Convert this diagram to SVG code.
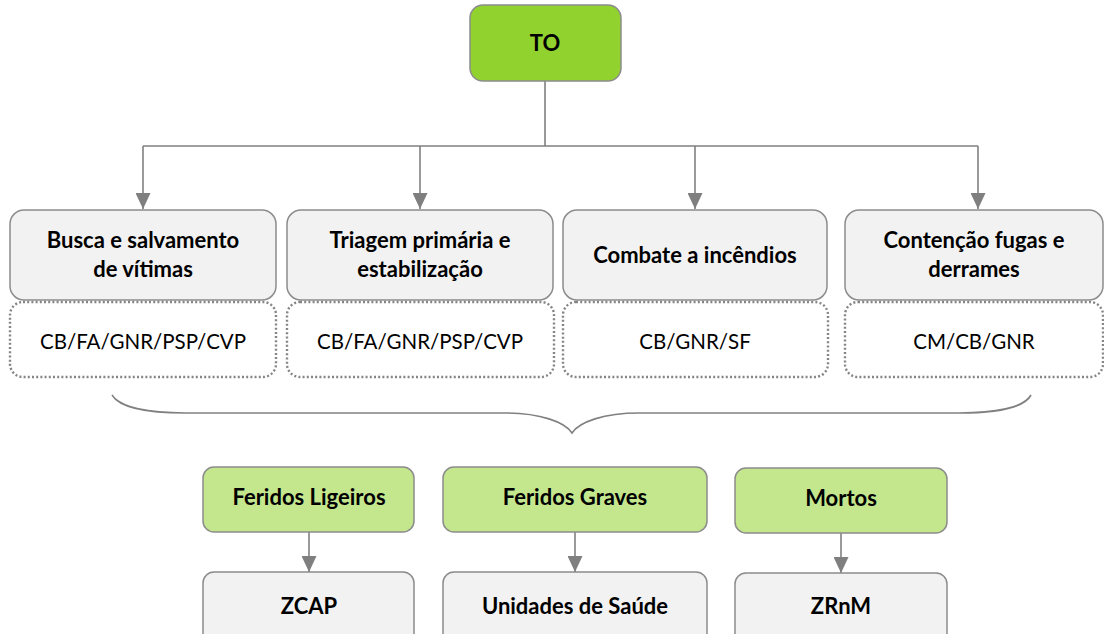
<svg xmlns="http://www.w3.org/2000/svg" width="1104" height="634" viewBox="0 0 1104 634">
<defs>
<marker id="ah" viewBox="0 0 16 15" refX="16" refY="7.5" markerWidth="16" markerHeight="15" markerUnits="userSpaceOnUse" orient="auto">
<path d="M0,0 L16,7.5 L0,15 Z" fill="#7f7f7f"/>
</marker>
<style>
.bx{fill:#f2f2f2;stroke:#8c8c8c;stroke-width:1.5}
.gr{fill:#c4e78d;stroke:#8c8c8c;stroke-width:1.5}
.to{fill:#92d22f;stroke:#8c8c8c;stroke-width:1.5}
.dt{fill:#ffffff;stroke:#858585;stroke-width:2.4;stroke-dasharray:2 2.2}
.ln{fill:none;stroke:#808080;stroke-width:1.6}
.b{font-family:Lato,"Liberation Sans",sans-serif;font-weight:bold;font-size:22px;fill:#000;text-anchor:middle}
.r{font-family:Lato,"Liberation Sans",sans-serif;font-size:20.5px;fill:#000;text-anchor:middle}
</style>
</defs>
<rect width="1104" height="634" fill="#ffffff"/>
<g id="connectors">
<path class="ln" d="M545,81 V146 M143,146 H978"/>
<path class="ln" d="M143,146 V209" marker-end="url(#ah)"/>
<path class="ln" d="M420,146 V209" marker-end="url(#ah)"/>
<path class="ln" d="M695,146 V209" marker-end="url(#ah)"/>
<path class="ln" d="M978,146 V209" marker-end="url(#ah)"/>
<path class="ln" d="M112,395 C120,408 150,413 185,413 H505 C540,413 565,422 572,433 C579,422 604,413 639,413 H959 C994,413 1024,408 1031,395"/>
<path class="ln" d="M309,532 V572" marker-end="url(#ah)"/>
<path class="ln" d="M575,532 V572" marker-end="url(#ah)"/>
<path class="ln" d="M841,533 V573" marker-end="url(#ah)"/>
</g>
<g id="TO"><rect class="to" x="470" y="5" width="151" height="76" rx="13"/><text class="b" x="545" y="51">TO</text></g>
<g id="busca"><rect class="bx" x="10" y="210" width="266" height="90" rx="14"/><text class="b" x="143" y="248">Busca e salvamento</text><text class="b" x="143" y="277">de vítimas</text></g>
<g id="busca-agentes"><rect class="dt" x="10" y="302" width="266" height="75" rx="13"/><text class="r" x="143" y="349">CB/FA/GNR/PSP/CVP</text></g>
<g id="triagem"><rect class="bx" x="287" y="210" width="266" height="90" rx="14"/><text class="b" x="420" y="248">Triagem primária e</text><text class="b" x="420" y="277">estabilização</text></g>
<g id="triagem-agentes"><rect class="dt" x="287" y="302" width="267" height="75" rx="13"/><text class="r" x="420" y="349">CB/FA/GNR/PSP/CVP</text></g>
<g id="combate"><rect class="bx" x="563" y="210" width="264" height="90" rx="14"/><text class="b" x="695" y="263">Combate a incêndios</text></g>
<g id="combate-agentes"><rect class="dt" x="563" y="302" width="265" height="75" rx="13"/><text class="r" x="695" y="349">CB/GNR/SF</text></g>
<g id="contencao"><rect class="bx" x="845" y="210" width="258" height="90" rx="14"/><text class="b" x="974" y="248">Contenção fugas e</text><text class="b" x="974" y="277">derrames</text></g>
<g id="contencao-agentes"><rect class="dt" x="845" y="302" width="258" height="75" rx="13"/><text class="r" x="974" y="349">CM/CB/GNR</text></g>
<g id="feridos-ligeiros"><rect class="gr" x="203" y="467" width="211" height="65" rx="11"/><text class="b" x="309" y="505">Feridos Ligeiros</text></g>
<g id="feridos-graves"><rect class="gr" x="443" y="467" width="264" height="65" rx="11"/><text class="b" x="575" y="505">Feridos Graves</text></g>
<g id="mortos"><rect class="gr" x="735" y="468" width="212" height="65" rx="11"/><text class="b" x="841" y="506">Mortos</text></g>
<g id="zcap"><rect class="bx" x="203" y="572" width="211" height="75" rx="11"/><text class="b" x="309" y="614">ZCAP</text></g>
<g id="unidades"><rect class="bx" x="443" y="572" width="264" height="75" rx="11"/><text class="b" x="575" y="614">Unidades de Saúde</text></g>
<g id="zrnm"><rect class="bx" x="735" y="573" width="212" height="75" rx="11"/><text class="b" x="841" y="614">ZRnM</text></g>
</svg>
